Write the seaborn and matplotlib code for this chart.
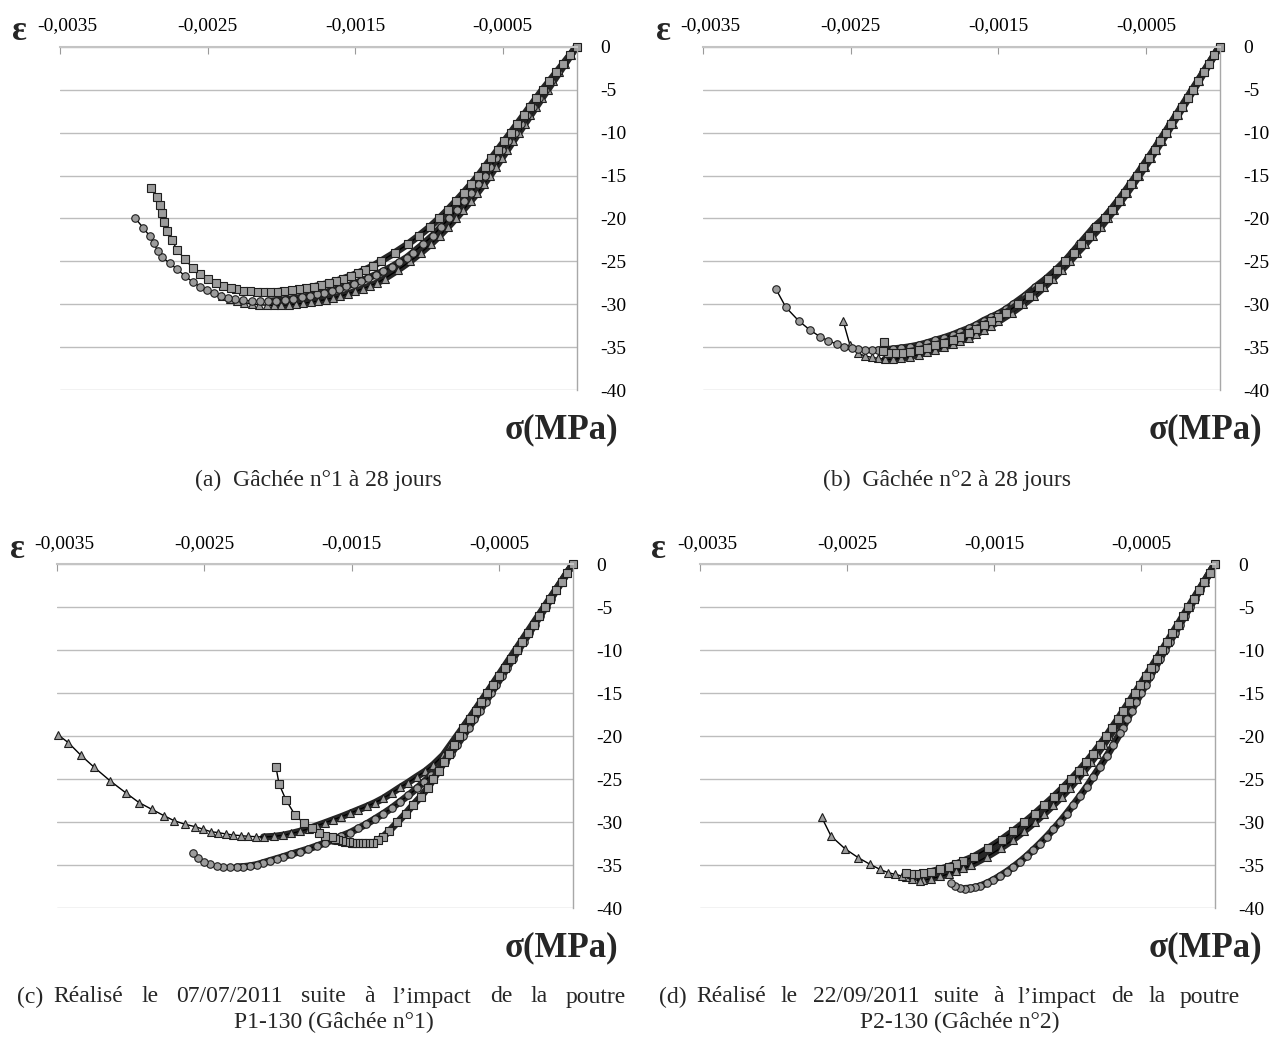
import matplotlib
matplotlib.use("Agg")
import numpy as np
import pandas as pd
import seaborn as sns
import matplotlib.pyplot as plt
from matplotlib.transforms import ScaledTranslation

# ---------------- data (strain in per-mille, stress in MPa) ----------------
A_SQ_EPS = [0, -0.045, -0.091, -0.137, -0.183, -0.230, -0.273, -0.316, -0.359, -0.402, -0.445, -0.489, -0.533,
            -0.577, -0.621, -0.665, -0.714, -0.765, -0.818, -0.873, -0.931, -0.995, -1.067, -1.144, -1.232, -1.328,
            -1.38, -1.43, -1.48, -1.53, -1.58, -1.63, -1.68, -1.73, -1.78, -1.83, -1.88, -1.93, -1.98, -2.03,
            -2.078, -2.123, -2.168, -2.214, -2.259, -2.304, -2.344, -2.395, -2.446, -2.500, -2.553, -2.602, -2.654,
            -2.704, -2.744, -2.772, -2.797, -2.812, -2.824, -2.842, -2.880]
A_SQ_SIG = [0, -1, -2, -3, -4, -5, -6, -7, -8, -9, -10, -11, -12, -13, -14, -15, -16, -17, -18, -19, -20, -21, -22,
            -23, -24, -25,
            -25.55, -25.95, -26.35, -26.7, -27.0, -27.3, -27.55, -27.75, -27.95, -28.1, -28.25, -28.35, -28.45, -28.52,
            -28.58, -28.58, -28.55, -28.49, -28.41, -28.25, -28.14, -27.87, -27.55, -27.09, -26.51, -25.74, -24.76,
            -23.68, -22.51, -21.43, -20.38, -19.40, -18.43, -17.47, -16.42]

A_CI_EPS = [0, -0.042, -0.085, -0.128, -0.171, -0.215, -0.256, -0.297, -0.338, -0.379, -0.420, -0.461, -0.502,
            -0.543, -0.584, -0.623, -0.668, -0.714, -0.762, -0.812, -0.864, -0.918, -0.975, -1.040, -1.110,
            -1.15, -1.20, -1.25, -1.31, -1.36, -1.41, -1.46, -1.51, -1.56, -1.61, -1.66, -1.71, -1.76,
            -1.807, -1.863, -1.920, -1.976, -2.033, -2.089, -2.146, -2.202, -2.259, -2.315, -2.361, -2.412, -2.458,
            -2.507, -2.553, -2.602, -2.654, -2.704, -2.756, -2.806, -2.839, -2.864, -2.892, -2.937, -2.989]
A_CI_SIG = [0, -1, -2, -3, -4, -5, -6, -7, -8, -9, -10, -11, -12, -13, -14, -15, -16, -17, -18, -19, -20, -21, -22,
            -23, -24,
            -24.55, -25.1, -25.6, -26.15, -26.55, -26.92, -27.27, -27.6, -27.9, -28.17, -28.42, -28.65, -28.85,
            -29.03, -29.19, -29.34, -29.46, -29.57, -29.65, -29.65, -29.61, -29.53, -29.42, -29.26, -29.03, -28.72,
            -28.33, -27.95, -27.37, -26.70, -25.93, -25.23, -24.53, -23.76, -22.90, -22.05, -21.08, -19.99]

A_TR_EPS = [0, -0.039, -0.078, -0.117, -0.156, -0.195, -0.234, -0.273, -0.312, -0.351, -0.390, -0.429, -0.468,
            -0.507, -0.546, -0.585, -0.627, -0.671, -0.718, -0.767, -0.818, -0.871, -0.927, -0.988, -1.055, -1.128,
            -1.210, -1.300,
            -1.35, -1.40, -1.45, -1.50, -1.55, -1.60, -1.65, -1.70, -1.75, -1.80, -1.85, -1.90, -1.95, -2.00, -2.05,
            -2.10, -2.15, -2.20, -2.25, -2.30, -2.35, -2.40]
A_TR_SIG = [0, -1, -2, -3, -4, -5, -6, -7, -8, -9, -10, -11, -12, -13, -14, -15, -16, -17, -18, -19, -20, -21, -22,
            -23, -24, -25, -26, -27,
            -27.5, -27.85, -28.2, -28.5, -28.8, -29.05, -29.25, -29.45, -29.6, -29.75, -29.88, -29.97, -30.05, -30.1,
            -30.12, -30.1, -30.05, -29.95, -29.8, -29.6, -29.35, -29.05]

B_CI_EPS = [0, -0.037, -0.074, -0.111, -0.148, -0.185, -0.222, -0.259, -0.296, -0.333, -0.370, -0.408, -0.446,
            -0.485, -0.525, -0.565, -0.606, -0.648, -0.692, -0.738, -0.786,
            -0.85, -0.90, -0.95, -1.00, -1.05, -1.11, -1.175, -1.25, -1.32, -1.40,
            -1.45, -1.50, -1.55, -1.60, -1.65, -1.70, -1.76, -1.81, -1.87, -1.93, -1.986, -2.04, -2.10, -2.16, -2.212,
            -2.269, -2.314, -2.359, -2.404, -2.449, -2.494, -2.546, -2.596, -2.653, -2.709, -2.777, -2.854, -2.940,
            -3.007]
B_CI_SIG = [0, -1, -2, -3, -4, -5, -6, -7, -8, -9, -10, -11, -12, -13, -14, -15, -16, -17, -18, -19, -20,
            -21, -22, -23, -24, -25, -26, -27, -28, -29, -30,
            -30.6, -31.1, -31.5, -31.9, -32.4, -32.8, -33.2, -33.55, -33.9, -34.2, -34.5, -34.75, -34.95, -35.1, -35.2,
            -35.3, -35.32, -35.32, -35.32, -35.24, -35.12, -34.94, -34.62, -34.24, -33.77, -32.99, -31.91, -30.35,
            -28.25]

B_SQ_EPS = [0, -0.036, -0.072, -0.108, -0.144, -0.180, -0.217, -0.254, -0.291, -0.328, -0.365, -0.403, -0.441,
            -0.480, -0.519, -0.558, -0.599, -0.641, -0.685, -0.731, -0.779,
            -0.835, -0.885, -0.938, -0.99, -1.045, -1.10, -1.16, -1.225, -1.293, -1.365, -1.45,
            -1.50, -1.55, -1.60, -1.65, -1.70, -1.76, -1.81, -1.87, -1.93, -1.986, -2.04, -2.10, -2.15, -2.20, -2.25,
            -2.28, -2.278]
B_SQ_SIG = [0, -1, -2, -3, -4, -5, -6, -7, -8, -9, -10, -11, -12, -13, -14, -15, -16, -17, -18, -19, -20,
            -21, -22, -23, -24, -25, -26, -27, -28, -29, -30, -31,
            -31.5, -32.0, -32.4, -32.85, -33.3, -33.75, -34.1, -34.45, -34.75, -35.05, -35.3, -35.5, -35.62, -35.7,
            -35.68, -35.4, -34.35]

B_TR_EPS = [0, -0.035, -0.070, -0.105, -0.140, -0.175, -0.211, -0.247, -0.283, -0.319, -0.355, -0.392, -0.429,
            -0.467, -0.506, -0.545, -0.585, -0.626, -0.669, -0.713, -0.759,
            -0.805, -0.86, -0.91, -0.965, -1.015, -1.07, -1.13, -1.19, -1.255, -1.33, -1.41, -1.50,
            -1.55, -1.60, -1.65, -1.70, -1.76, -1.81, -1.87, -1.93, -1.986, -2.04, -2.10, -2.16, -2.212, -2.269,
            -2.314, -2.359, -2.404, -2.449, -2.506, -2.551]
B_TR_SIG = [0, -1, -2, -3, -4, -5, -6, -7, -8, -9, -10, -11, -12, -13, -14, -15, -16, -17, -18, -19, -20,
            -21, -22, -23, -24, -25, -26, -27, -28, -29, -30, -31, -32,
            -32.5, -32.95, -33.5, -33.9, -34.3, -34.65, -35.0, -35.3, -35.6, -35.85, -36.1, -36.3, -36.4, -36.41,
            -36.29, -36.17, -36.02, -35.71, -34.74, -32.0]

C_TR_EPS = [0, -0.039, -0.078, -0.117, -0.156, -0.195, -0.234, -0.273, -0.312, -0.351, -0.39, -0.429, -0.468,
            -0.507, -0.546, -0.585, -0.625, -0.665, -0.705, -0.746, -0.788, -0.83,
            -0.88, -0.946, -1.0, -1.059, -1.12, -1.172, -1.23, -1.286, -1.34, -1.398, -1.455, -1.512, -1.57, -1.625,
            -1.68, -1.737, -1.79, -1.851, -1.91, -1.964, -2.03, -2.098, -2.149, -2.201, -2.253, -2.303, -2.353,
            -2.405, -2.457, -2.507, -2.563, -2.631, -2.706, -2.773, -2.857, -2.944, -3.035, -3.138, -3.248, -3.34,
            -3.423, -3.492]
C_TR_SIG = [0, -1, -2, -3, -4, -5, -6, -7, -8, -9, -10, -11, -12, -13, -14, -15, -16, -17, -18, -19, -20, -21,
            -22.2, -23.3, -24.05, -24.7, -25.4, -25.95, -26.6, -27.21, -27.7, -28.15, -28.55, -28.95, -29.35, -29.7,
            -30.05, -30.4, -30.75, -31.05, -31.3, -31.5, -31.65, -31.71, -31.67, -31.63, -31.55, -31.48, -31.36,
            -31.2, -31.09, -30.81, -30.51, -30.23, -29.81, -29.24, -28.49, -27.7, -26.55, -25.2, -23.6, -22.17,
            -20.74, -19.84]

C_CI_EPS = [0, -0.037, -0.074, -0.111, -0.148, -0.185, -0.222, -0.259, -0.296, -0.333, -0.37, -0.407, -0.444,
            -0.481, -0.518, -0.555, -0.592, -0.63, -0.668, -0.706, -0.745, -0.785, -0.826, -0.87, -0.915,
            -0.96, -1.01, -1.059, -1.115, -1.172, -1.23, -1.286, -1.343, -1.4, -1.455, -1.512, -1.57, -1.625, -1.68,
            -1.737, -1.794, -1.851, -1.91, -1.964, -2.009, -2.054, -2.1, -2.145, -2.19, -2.236, -2.28, -2.326,
            -2.371, -2.416, -2.461, -2.502, -2.54, -2.579]
C_CI_SIG = [0, -1, -2, -3, -4, -5, -6, -7, -8, -9, -10, -11, -12, -13, -14, -15, -16, -17, -18, -19, -20, -21, -22,
            -23, -24,
            -24.45, -25.3, -26.05, -26.85, -27.6, -28.35, -29.0, -29.6, -30.2, -30.7, -31.2, -31.6, -32.0, -32.4,
            -32.75, -33.1, -33.4, -33.7, -34.0, -34.23, -34.46, -34.7, -34.93, -35.08, -35.16, -35.2, -35.2, -35.16,
            -35.04, -34.85, -34.58, -34.1, -33.6]

C_SQ_EPS = [0, -0.038, -0.076, -0.114, -0.152, -0.19, -0.228, -0.266, -0.304, -0.343, -0.382, -0.421, -0.46, -0.5,
            -0.54, -0.58, -0.62, -0.66, -0.70, -0.743,
            -0.775, -0.805, -0.84, -0.875, -0.91, -0.946, -0.985, -1.03, -1.085, -1.135, -1.19, -1.245,
            -1.286, -1.32, -1.353, -1.38, -1.41, -1.433, -1.455, -1.478, -1.5, -1.522, -1.545, -1.568, -1.591,
            -1.613, -1.636, -1.681, -1.722, -1.771, -1.824, -1.885, -1.946, -1.993, -2.014]
C_SQ_SIG = [0, -1, -2, -3, -4, -5, -6, -7, -8, -9, -10, -11, -12, -13, -14, -15, -16, -17, -18, -19,
            -20, -21, -22, -23, -24, -25, -26, -27, -28, -29, -30, -31,
            -31.67, -32.1, -32.4, -32.45, -32.45, -32.45, -32.45, -32.42, -32.37, -32.32, -32.25, -32.16, -32.06,
            -31.92, -31.74, -31.59, -31.2, -30.7, -30.12, -29.15, -27.41, -25.55, -23.6]

D_CI_EPS = [0, -0.034, -0.068, -0.102, -0.136, -0.17, -0.204, -0.238, -0.272, -0.306, -0.34, -0.373, -0.405,
            -0.438, -0.47, -0.502, -0.535, -0.565, -0.595, -0.625,
            -0.645, -0.69, -0.735, -0.781, -0.826, -0.871, -0.917, -0.963, -1.008, -1.053, -1.098, -1.144, -1.19,
            -1.235, -1.28, -1.325, -1.37, -1.416, -1.462, -1.507, -1.552, -1.597, -1.631, -1.665, -1.7, -1.733,
            -1.765, -1.795]
D_CI_SIG = [0, -1, -2, -3, -4, -5, -6, -7, -8, -9, -10, -11, -12, -13, -14, -15, -16, -17, -18, -19,
            -19.65, -21.01, -22.3, -23.53, -24.7, -25.86, -26.95, -27.99, -28.98, -29.93, -30.82, -31.67, -32.47,
            -33.22, -33.93, -34.58, -35.18, -35.74, -36.25, -36.71, -37.1, -37.41, -37.58, -37.67, -37.7, -37.67,
            -37.45, -37.02]

D_SQ_EPS = [0, -0.036, -0.072, -0.108, -0.144, -0.18, -0.216, -0.252, -0.288, -0.324, -0.36, -0.396, -0.433, -0.47,
            -0.507, -0.545, -0.583, -0.622, -0.66, -0.70, -0.74, -0.783, -0.828, -0.875, -0.925, -0.978, -1.035,
            -1.095, -1.16, -1.225, -1.295, -1.37, -1.45, -1.54, -1.64,
            -1.711, -1.76, -1.81, -1.869, -1.93, -1.983, -2.03, -2.07, -2.103]
D_SQ_SIG = [0, -1, -2, -3, -4, -5, -6, -7, -8, -9, -10, -11, -12, -13, -14, -15, -16, -17, -18, -19, -20, -21, -22,
            -23, -24, -25, -26, -27, -28, -29, -30, -31, -32, -33, -34,
            -34.5, -34.85, -35.15, -35.45, -35.75, -35.95, -36.05, -36.05, -35.93]

D_TR_EPS = [0, -0.035, -0.07, -0.105, -0.14, -0.175, -0.21, -0.245, -0.28, -0.315, -0.35, -0.385, -0.42, -0.456,
            -0.492, -0.528, -0.565, -0.602, -0.64, -0.678, -0.717, -0.757, -0.798, -0.842, -0.887, -0.935, -0.985,
            -1.04, -1.098, -1.16, -1.225, -1.295, -1.37, -1.455, -1.55, -1.66,
            -1.711, -1.76, -1.81, -1.869, -1.93, -1.983, -2.005, -2.06, -2.1, -2.13, -2.176, -2.221, -2.278, -2.346,
            -2.425, -2.516, -2.611, -2.674]
D_TR_SIG = [0, -1, -2, -3, -4, -5, -6, -7, -8, -9, -10, -11, -12, -13, -14, -15, -16, -17, -18, -19, -20, -21, -22,
            -23, -24, -25, -26, -27, -28, -29, -30, -31, -32, -33, -34, -35,
            -35.35, -35.7, -36.0, -36.3, -36.55, -36.72, -36.79, -36.6, -36.4, -36.24, -36.05, -35.86, -35.47, -34.88,
            -34.12, -33.07, -31.59, -29.42]

X_TICKS = [-0.0035, -0.0025, -0.0015, -0.0005]
X_TICK_LABELS = ["-0,0035", "-0,0025", "-0,0015", "-0,0005"]
Y_TICKS = [0, -5, -10, -15, -20, -25, -30, -35, -40]
Y_TICK_LABELS = ["0", "-5", "-10", "-15", "-20", "-25", "-30", "-35", "-40"]

CAP_LABELS = {"a": "(a)", "b": "(b)", "c": "(c)", "d": "(d)"}
CAP_LINE1 = {
    "a": "Gâchée n°1 à 28 jours",
    "b": "Gâchée n°2 à 28 jours",
    "c": "Réalisé le 07/07/2011 suite à l’impact de la poutre",
    "d": "Réalisé le 22/09/2011 suite à l’impact de la poutre",
}
CAP_LINE2 = {"c": "P1-130 (Gâchée n°1)", "d": "P2-130 (Gâchée n°2)"}

PANELS = {
    "a": [(A_TR_EPS, A_TR_SIG, "^"), (A_CI_EPS, A_CI_SIG, "o"), (A_SQ_EPS, A_SQ_SIG, "s")],
    "b": [(B_TR_EPS, B_TR_SIG, "^"), (B_CI_EPS, B_CI_SIG, "o"), (B_SQ_EPS, B_SQ_SIG, "s")],
    "c": [(C_TR_EPS, C_TR_SIG, "^"), (C_CI_EPS, C_CI_SIG, "o"), (C_SQ_EPS, C_SQ_SIG, "s")],
    "d": [(D_TR_EPS, D_TR_SIG, "^"), (D_CI_EPS, D_CI_SIG, "o"), (D_SQ_EPS, D_SQ_SIG, "s")],
}

# ---------------- figure ----------------
sns.set_theme(style="white")
plt.rcParams['font.family'] = ['Liberation Serif', 'DejaVu Serif']

W, H = 1277, 1043
fig = plt.figure(figsize=(W / 100, H / 100), dpi=100)
renderer = fig.canvas.get_renderer()


def rect(x0, x1, y0, y1):
    return [x0 / W, 1 - y1 / H, (x1 - x0) / W, (y1 - y0) / H]


def text_width(s, size):
    t = fig.text(0, 0, s, fontsize=size)
    w = t.get_window_extent(renderer=renderer).width
    t.remove()
    return w


def justified_line(x0, x1, y, s, size):
    words = s.split(" ")
    widths = [text_width(w, size) for w in words]
    gap = (x1 - x0 - sum(widths)) / (len(words) - 1)
    x = x0
    for w, wd in zip(words, widths):
        fig.text(x / W, 1 - y / H, w, fontsize=size, ha="left", va="center")
        x += wd + gap


AX_PIX = {
    "a": (60, 576.5, 46.7, 390.2),
    "b": (703.3, 1219.6, 46.7, 390.2),
    "c": (57, 572.8, 564.3, 908.3),
    "d": (700.3, 1214.8, 564.3, 908.3),
}
EPS_POS = {"a": (19, 31), "b": (663, 31), "c": (17, 549), "d": (658, 549)}
SIG_POS = {"a": (618, 430), "b": (1262, 430), "c": (618, 948), "d": (1262, 948)}
CAP_CENTER = {"a": (318, 480), "b": (947, 480)}
CAP_JUST = {"c": (17, 626, 997), "d": (659, 1240, 997)}
CAP2_CENTER = {"c": (334, 1022), "d": (960, 1022)}
CAP_SIZE = 17

MS = {"^": 6.2, "o": 5.4, "s": 5.2}
FACE = "#9c9c9c"
EDGE = "#1e1e1e"

for key, curves in PANELS.items():
    ax = fig.add_axes(rect(*AX_PIX[key]))
    for eps, sig, mk in curves:
        df = pd.DataFrame({"eps": np.array(eps) * 1e-3, "sig": sig})
        peak = int(np.argmin(df["sig"].to_numpy()))
        # pre-peak part: samples are so dense that markers merge into a dark band
        sns.lineplot(data=df.iloc[:peak + 1], x="eps", y="sig", sort=False, estimator=None, ax=ax,
                     color="#262626", linewidth=5.2, solid_capstyle="round", clip_on=False)
        sns.lineplot(data=df, x="eps", y="sig", sort=False, estimator=None, ax=ax,
                     color="black", linewidth=1.0, marker=mk, markersize=MS[mk],
                     markerfacecolor=FACE, markeredgecolor=EDGE,
                     markeredgewidth=0.8, clip_on=False)
    ax.set_xlim(-0.0035, 0)
    ax.set_ylim(-40, 0)
    ax.set_xlabel("")
    ax.set_ylabel("")
    ax.xaxis.tick_top()
    ax.set_xticks(X_TICKS)
    ax.set_xticklabels(X_TICK_LABELS)
    ax.yaxis.tick_right()
    ax.set_yticks(Y_TICKS)
    ax.set_yticklabels(Y_TICK_LABELS)
    ax.tick_params(axis="x", direction="in", length=5, width=0.8, color="#9a9a9a",
                   pad=9, labelsize=14, labelcolor="black")
    ax.tick_params(axis="y", length=0, pad=17, labelsize=14, labelcolor="black")
    first = ax.get_xticklabels()[0]
    first.set_transform(first.get_transform() + ScaledTranslation(7 / 100, 0, fig.dpi_scale_trans))
    ax.grid(axis="y", color="#bdbdbd", linewidth=1.0)
    ax.grid(axis="x", visible=False)
    ax.set_axisbelow(True)
    for s in ("left", "bottom"):
        ax.spines[s].set_visible(False)
    ax.spines["top"].set_color("#c4c4c4")
    ax.spines["top"].set_linewidth(1.5)
    ax.spines["right"].set_color("#a8a8a8")
    ax.spines["right"].set_linewidth(1.0)

    ex, ey = EPS_POS[key]
    fig.text(ex / W, 1 - ey / H, "ε", fontsize=25, fontweight="bold", ha="center", va="center")
    sx, sy = SIG_POS[key]
    fig.text(sx / W, 1 - sy / H, "σ(MPa)", fontsize=25, fontweight="bold", ha="right", va="center")

    if key in CAP_CENTER:
        cx, cy = CAP_CENTER[key]
        fig.text(cx / W, 1 - cy / H, CAP_LABELS[key] + "  " + CAP_LINE1[key], fontsize=CAP_SIZE,
                 ha="center", va="center")
    else:
        x0, x1, cy = CAP_JUST[key]
        fig.text(x0 / W, 1 - cy / H, CAP_LABELS[key], fontsize=CAP_SIZE, ha="left", va="center")
        lab_w = text_width(CAP_LABELS[key], CAP_SIZE)
        justified_line(x0 + lab_w + 10, x1, cy, CAP_LINE1[key], CAP_SIZE)
        c2x, c2y = CAP2_CENTER[key]
        fig.text(c2x / W, 1 - c2y / H, CAP_LINE2[key], fontsize=CAP_SIZE, ha="center", va="center")

fig.savefig("out.png", dpi=100)
